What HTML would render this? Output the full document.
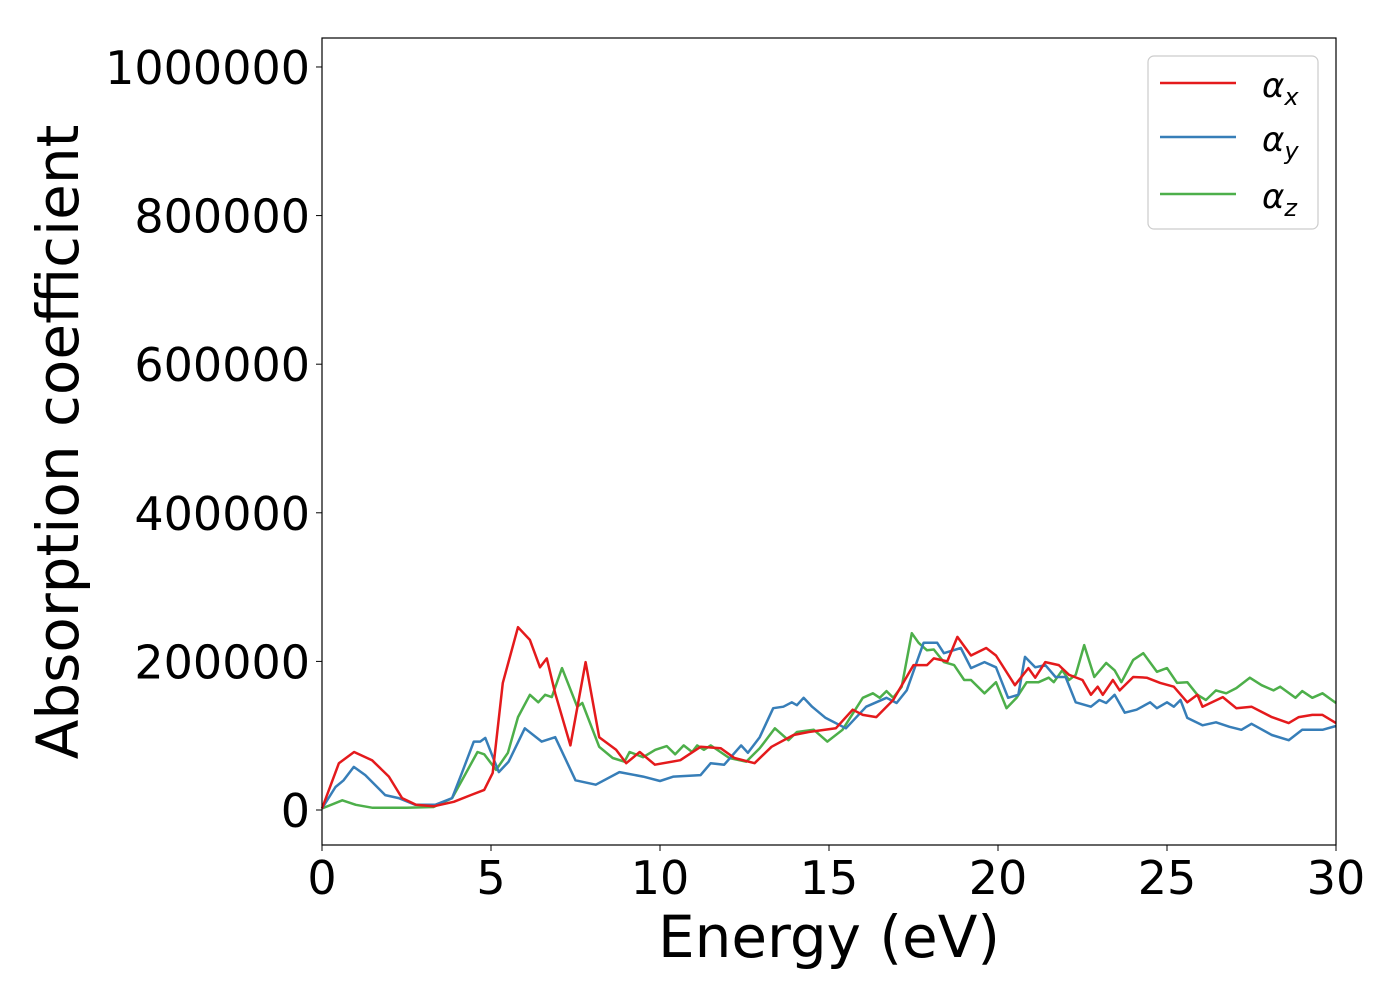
<!DOCTYPE html>
<html><head><meta charset="utf-8"><style>
html,body{margin:0;padding:0;background:#fff;width:1400px;height:1000px;overflow:hidden}
svg{display:block;font-family:"DejaVu Sans","Liberation Sans",sans-serif}
</style></head><body>
<svg id="chart" width="1400" height="1000" viewBox="0 0 1400 1000" xmlns="http://www.w3.org/2000/svg">
<g id="plot"></g>
<rect x="322" y="38" width="1014" height="807" fill="none" stroke="#000" stroke-width="1.2"/>
<g id="xticks"></g>
<g id="yticks"></g>
<text x="829" y="957" font-size="58" text-anchor="middle">Energy (eV)</text>
<text transform="translate(78,442) rotate(-90)" font-size="58" text-anchor="middle">Absorption coefficient</text>
<g>
<rect x="1148" y="56" width="170" height="173" rx="6" fill="#fff" stroke="#ccc" stroke-width="1.2"/>
<line x1="1160" y1="83" x2="1236" y2="83" stroke="#e41a1c" stroke-width="2.5"/>
<text x="1262" y="97" font-size="34" font-style="italic">α<tspan font-size="24" dy="8">x</tspan></text>
<line x1="1160" y1="137" x2="1236" y2="137" stroke="#377eb8" stroke-width="2.5"/>
<text x="1262" y="151" font-size="34" font-style="italic">α<tspan font-size="24" dy="8">y</tspan></text>
<line x1="1160" y1="194" x2="1236" y2="194" stroke="#4daf4a" stroke-width="2.5"/>
<text x="1262" y="208" font-size="34" font-style="italic">α<tspan font-size="24" dy="8">z</tspan></text>
</g>
</svg>
<script>
const xTicks=[0,5,10,15,20,25,30];
const yTicks=[0,200000,400000,600000,800000,1000000];
const redE=[0,0.5,0.95,1.48,1.98,2.37,2.78,3.3,3.9,4.4,4.8,5.05,5.35,5.8,6.15,6.45,6.65,6.9,7.35,7.8,8.2,8.7,9.0,9.4,9.85,10.6,11.2,11.8,12.2,12.8,13.3,13.95,14.4,15.2,15.7,16,16.4,16.9,17.5,17.9,18.1,18.5,18.8,19.2,19.65,19.94,20.5,20.9,21.1,21.4,21.8,22.1,22.5,22.75,22.95,23.1,23.4,23.6,24.0,24.4,24.8,25.2,25.6,25.9,26.05,26.65,27.05,27.5,27.8,28.1,28.6,28.9,29.3,29.6,30];
const redV=[2,63,78,67,45,16,7,5,11,20,27,50,171,246,229,192,204,157,87,199,98,81,63,78,61,67,85,83,70,63,85,101,105,110,135,128,125,148,195,195,204,200,233,208,218,208,168,191,178,199,195,182,175,155,166,155,175,161,179,178,171,166,145,155,139,152,137,139,132,125,117,125,128,128,117];
const blueE=[0,0.4,0.64,0.94,1.28,1.87,2.27,2.76,3.35,3.85,4.14,4.49,4.68,4.83,5.23,5.52,6.0,6.5,6.9,7.5,8.1,8.8,9.5,10,10.4,11.2,11.5,11.9,12.4,12.6,12.95,13.35,13.65,13.9,14.05,14.25,14.5,14.9,15.5,16.1,16.7,17.0,17.3,17.8,18.2,18.4,18.9,19.2,19.6,19.94,20.3,20.6,20.8,21.1,21.4,21.7,22.0,22.3,22.75,23.0,23.2,23.45,23.75,24.1,24.5,24.7,25.0,25.2,25.4,25.6,26.05,26.45,26.85,27.2,27.5,28.1,28.6,29.0,29.6,30];
const blueV=[2,31,40,58,47,20,16,7,7,16,50,92,92,97,51,65,110,92,98,40,34,51,45,39,45,47,63,61,87,77,98,137,139,145,141,151,139,124,110,139,151,144,161,225,225,211,218,191,199,192,151,155,206,192,195,179,179,145,139,148,144,155,131,135,145,137,145,139,148,124,114,118,112,108,116,101,94,108,108,113];
const greenE=[0,0.6,1.0,1.5,2.5,3.3,3.85,4.2,4.6,4.8,5.15,5.5,5.8,6.15,6.4,6.6,6.8,7.1,7.55,7.7,8.2,8.6,8.95,9.1,9.5,9.86,10.2,10.45,10.7,10.95,11.1,11.3,11.5,12.05,12.55,12.95,13.4,13.8,14.05,14.55,14.95,15.4,16.0,16.3,16.5,16.7,16.9,17.15,17.45,17.65,17.9,18.1,18.4,18.7,19.0,19.2,19.6,19.94,20.25,20.55,20.85,21.2,21.5,21.65,21.9,22.1,22.3,22.55,22.85,23.2,23.45,23.65,24.0,24.3,24.7,25.0,25.3,25.6,25.9,26.15,26.45,26.75,27.05,27.45,27.8,28.15,28.35,28.8,29.0,29.3,29.6,30];
const greenV=[2,13,7,3,3,4,16,45,78,75,54,77,125,155,145,155,152,191,139,144,85,70,65,78,71,81,86,75,87,78,87,81,87,70,65,83,110,94,105,108,92,108,151,157,151,160,151,166,238,225,215,216,199,195,175,175,157,172,137,151,172,172,178,172,188,175,182,222,179,198,188,172,202,211,186,191,171,172,155,148,161,157,164,178,168,161,166,151,160,151,157,144];
const X0=322,X1=1336,Y0=845,Y1=38,xMin=0,xMax=30,yMin=-47100,yMax=1039000;
const sx=v=>X0+(v-xMin)/(xMax-xMin)*(X1-X0);
const sy=v=>Y0-(v-yMin)/(yMax-yMin)*(Y0-Y1);
const NS="http://www.w3.org/2000/svg";
const plot=document.getElementById('plot');
function drawSeries(E,V,color,name){
  const p=document.createElementNS(NS,'polyline');
  p.setAttribute('points',E.map((e,i)=>sx(e).toFixed(1)+','+sy(V[i]*1000).toFixed(1)).join(' '));
  p.setAttribute('fill','none');p.setAttribute('stroke',color);p.setAttribute('stroke-width','2.5');
  p.setAttribute('stroke-linejoin','round');
  
  
  plot.appendChild(p);
}
drawSeries(greenE,greenV,'#4daf4a','series-alpha-z');
drawSeries(blueE,blueV,'#377eb8','series-alpha-y');
drawSeries(redE,redV,'#e41a1c','series-alpha-x');
const xg=document.getElementById('xticks');
xTicks.forEach(t=>{
  const l=document.createElementNS(NS,'line');
  l.setAttribute('x1',sx(t));l.setAttribute('x2',sx(t));l.setAttribute('y1',Y0);l.setAttribute('y2',Y0+6);l.setAttribute('stroke','#000');
  
  
  xg.appendChild(l);
  const tx=document.createElementNS(NS,'text');
  tx.setAttribute('x',sx(t));tx.setAttribute('y',894);tx.setAttribute('font-size','46');tx.setAttribute('text-anchor','middle');
  tx.textContent=t;
  
  
  xg.appendChild(tx);
});
const yg=document.getElementById('yticks');
yTicks.forEach(t=>{
  const l=document.createElementNS(NS,'line');
  l.setAttribute('x1',X0-6);l.setAttribute('x2',X0);l.setAttribute('y1',sy(t));l.setAttribute('y2',sy(t));l.setAttribute('stroke','#000');
  
  
  yg.appendChild(l);
  const tx=document.createElementNS(NS,'text');
  tx.setAttribute('x',310);tx.setAttribute('y',sy(t)+17);tx.setAttribute('font-size','46');tx.setAttribute('text-anchor','end');
  tx.textContent=t;
  
  
  yg.appendChild(tx);
});
</script>
</body></html>
